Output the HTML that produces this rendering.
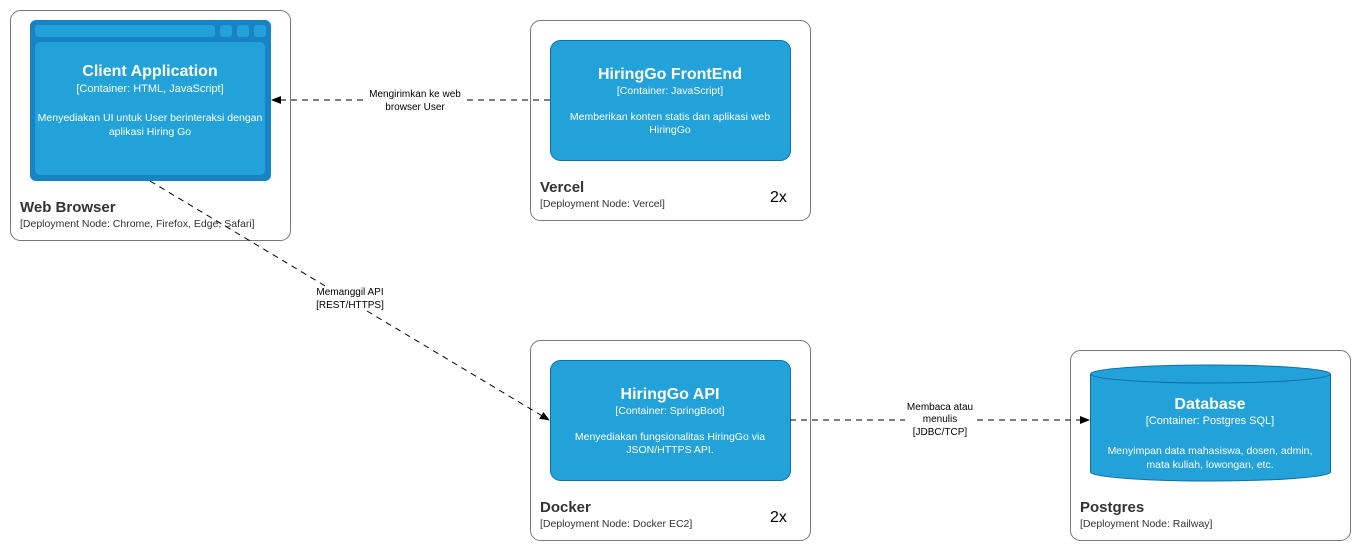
<!DOCTYPE html>
<html><head><meta charset="utf-8"><style>body{margin:0;background:#fff}svg{display:block;font-family:"Liberation Sans",Arial,sans-serif}</style></head><body>
<svg width="1362" height="552" viewBox="0 0 1362 552">
<defs><marker id="a" markerWidth="10" markerHeight="10" refX="9" refY="5" orient="auto" markerUnits="userSpaceOnUse"><path d="M0,1 L10,5 L0,9 Z" fill="#000"/></marker></defs>
<g fill="#fff" stroke="#777" stroke-width="1">
<rect x="10.5" y="10.5" width="280" height="230" rx="10"/>
<rect x="530.5" y="20.5" width="280" height="200" rx="10"/>
<rect x="530.5" y="340.5" width="280" height="200" rx="10"/>
<rect x="1070.5" y="350.5" width="280" height="190" rx="10"/>
</g>
<rect x="30" y="20" width="241" height="161" rx="6" fill="#1783c4"/>
<rect x="35" y="25" width="180" height="12" rx="3" fill="#23a2d9"/>
<rect x="220" y="25" width="12" height="12" rx="3" fill="#23a2d9"/>
<rect x="237" y="25" width="12" height="12" rx="3" fill="#23a2d9"/>
<rect x="254" y="25" width="12" height="12" rx="3" fill="#23a2d9"/>
<rect x="35" y="42" width="230" height="133" rx="5" fill="#23a2d9"/>
<g fill="#fff" text-anchor="middle">
<text x="150" y="76" font-size="16" font-weight="bold">Client Application</text>
<text x="150" y="92" font-size="11">[Container: HTML, JavaScript]</text>
<text x="150" y="121" font-size="10.5">Menyediakan UI untuk User berinteraksi dengan</text>
<text x="150" y="135" font-size="10.5">aplikasi Hiring Go</text>
</g>
<rect x="550.5" y="40.5" width="240" height="120" rx="10" fill="#23a2d9" stroke="#0f6fa6"/>
<g fill="#fff" text-anchor="middle">
<text x="670" y="79" font-size="16" font-weight="bold">HiringGo FrontEnd</text>
<text x="670" y="94" font-size="10.5">[Container: JavaScript]</text>
<text x="670" y="120" font-size="10.5">Memberikan konten statis dan aplikasi web</text>
<text x="670" y="133" font-size="10.5">HiringGo</text>
</g>
<rect x="550.5" y="360.5" width="240" height="120" rx="10" fill="#23a2d9" stroke="#0f6fa6"/>
<g fill="#fff" text-anchor="middle">
<text x="670" y="399" font-size="16" font-weight="bold">HiringGo API</text>
<text x="670" y="414" font-size="10.5">[Container: SpringBoot]</text>
<text x="670" y="440" font-size="10.5">Menyediakan fungsionalitas HiringGo via</text>
<text x="670" y="453" font-size="10.5">JSON/HTTPS API.</text>
</g>
<path d="M1090.5,374 A120,9 0 0 1 1330.5,374 L1330.5,472 A120,9 0 0 1 1090.5,472 Z" fill="#23a2d9" stroke="#0f6fa6"/>
<path d="M1090.5,374 A120,9 0 0 0 1330.5,374" fill="none" stroke="#0f6fa6"/>
<g fill="#fff" text-anchor="middle">
<text x="1210" y="409" font-size="16" font-weight="bold">Database</text>
<text x="1210" y="424" font-size="11">[Container: Postgres SQL]</text>
<text x="1210" y="454" font-size="10.5">Menyimpan data mahasiswa, dosen, admin,</text>
<text x="1210" y="468" font-size="10.5">mata kuliah, lowongan, etc.</text>
</g>
<g fill="#333">
<text x="20" y="212" font-size="15" font-weight="bold">Web Browser</text>
<text x="20" y="227" font-size="10.5">[Deployment Node: Chrome, Firefox, Edge, Safari]</text>
<text x="540" y="192" font-size="15" font-weight="bold">Vercel</text>
<text x="540" y="207" font-size="10.5">[Deployment Node: Vercel]</text>
<text x="540" y="512" font-size="15" font-weight="bold">Docker</text>
<text x="540" y="527" font-size="10.5">[Deployment Node: Docker EC2]</text>
<text x="1080" y="512" font-size="15" font-weight="bold">Postgres</text>
<text x="1080" y="527" font-size="10.5">[Deployment Node: Railway]</text>
</g>
<g fill="#000" font-size="16"><text x="770" y="202">2x</text><text x="770" y="522">2x</text></g>
<g stroke="#000" stroke-dasharray="6,5" fill="none">
<line x1="550" y1="100" x2="272" y2="100" marker-end="url(#a)"/>
<line x1="150" y1="181" x2="549" y2="420" marker-end="url(#a)"/>
<line x1="790" y1="420" x2="1089" y2="420" marker-end="url(#a)"/>
</g>
<rect x="364" y="90" width="102" height="22" fill="#fff"/>
<rect x="313" y="287" width="74" height="22" fill="#fff"/>
<rect x="905" y="402" width="70" height="34" fill="#fff"/>
<g fill="#000" font-size="10" text-anchor="middle">
<text x="415" y="97">Mengirimkan ke web</text><text x="415" y="110">browser User</text>
<text x="350" y="295">Memanggil API</text><text x="350" y="308">[REST/HTTPS]</text>
<text x="940" y="410">Membaca atau</text><text x="940" y="422">menulis</text><text x="940" y="435">[JDBC/TCP]</text>
</g>
</svg>
</body></html>
